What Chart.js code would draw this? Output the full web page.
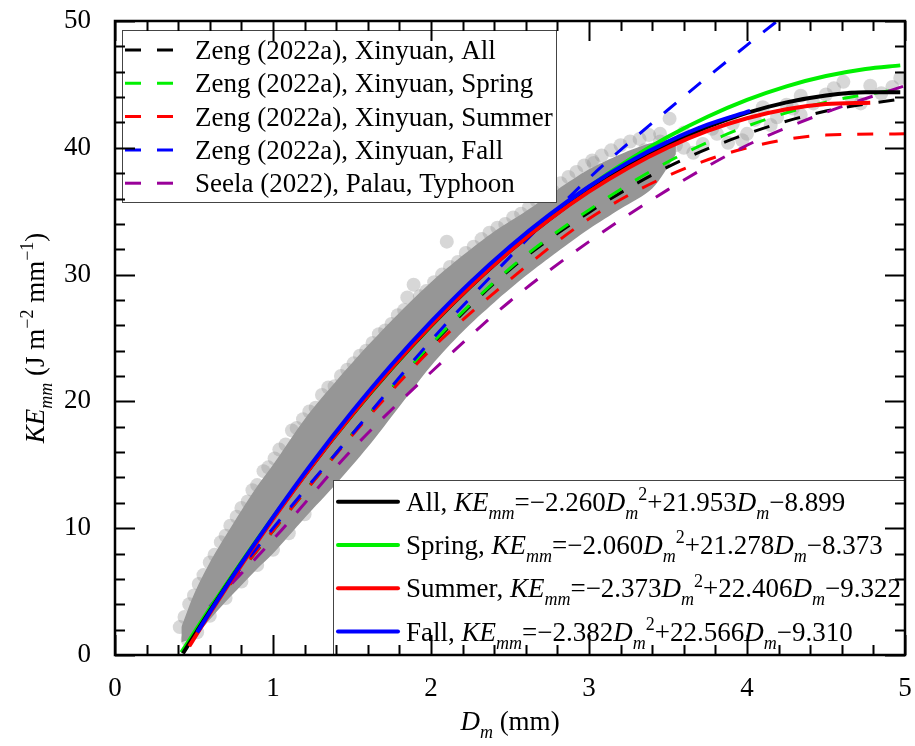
<!DOCTYPE html>
<html>
<head>
<meta charset="utf-8">
<script src="https://cdn.jsdelivr.net/npm/chart.js@4.4.0/dist/chart.umd.min.js"></script>
<style>
  html, body { margin: 0; padding: 0; background: #fff; }
  #wrap { width: 915px; height: 746px; }
</style>
</head>
<body>
<div id="wrap"><canvas id="keChart" width="915" height="746"></canvas></div>
<script>
// Measured drops: solid core of the cloud (upper / lower envelope)
const coreD     = [0.42, 0.5, 0.6, 0.7, 0.8, 0.9, 1.0, 1.2, 1.4, 1.6, 1.8, 2.0, 2.2, 2.4, 2.6, 2.8, 3.0, 3.2, 3.4, 3.55];
const coreUpper = [2.2, 4.8, 7.3, 9.4, 11.4, 13.3, 15.0, 18.6, 21.6, 24.4, 27.0, 29.4, 31.5, 33.4, 35.0, 36.7, 38.3, 39.5, 40.4, 40.7];
const coreLower = [1.0, 1.4, 2.8, 4.2, 5.5, 6.8, 8.0, 10.8, 13.5, 16.4, 19.6, 22.8, 25.5, 27.8, 29.9, 31.8, 33.6, 35.2, 36.8, 39.5];

// Individual samples: upper edge of the cloud
const edgeD  = [0.41, 0.44, 0.47, 0.5, 0.53, 0.56, 0.6, 0.63, 0.67, 0.7, 0.73, 0.77, 0.8, 0.84, 0.87, 0.9, 0.94, 0.97,
                1.01, 1.04, 1.08, 1.12, 1.15, 1.19, 1.23, 1.27, 1.31, 1.35, 1.39, 1.43, 1.47, 1.51, 1.55, 1.59, 1.63, 1.67,
                1.71, 1.75, 1.79, 1.83, 1.85, 1.89, 1.93, 1.97, 2.02, 2.07, 2.1, 2.12, 2.17, 2.22, 2.27, 2.32, 2.37, 2.42,
                2.47, 2.52, 2.57, 2.62, 2.67, 2.72, 2.77, 2.82, 2.87, 2.92, 2.97, 3.02, 3.08, 3.14, 3.2, 3.26, 3.32, 3.38, 3.45];
const edgeKE = [2.2, 3.0, 4.0, 4.7, 5.6, 6.3, 7.3, 7.9, 8.9, 9.4, 10.2, 10.9, 11.6, 12.1, 13.0, 13.4, 14.5, 14.8,
                15.5, 16.2, 16.6, 17.7, 17.9, 18.6, 19.2, 19.5, 20.5, 21.1, 21.2, 22.0, 22.5, 23.0, 23.6, 24.0, 24.6, 25.3,
                25.6, 26.1, 26.8, 27.2, 28.2, 29.2, 28.3, 28.7, 29.4, 30.0, 32.6, 30.6, 31.0, 31.7, 32.2, 32.8, 33.3, 33.7,
                34.0, 34.5, 34.8, 35.3, 35.8, 36.3, 36.6, 37.2, 37.7, 38.1, 38.6, 39.0, 39.4, 39.8, 40.2, 40.5, 40.7, 41.0, 41.1];

// lower edge of the cloud
const lowD  = [0.46, 0.52, 0.6, 0.7, 0.8, 0.9, 1.0, 1.1, 1.2];
const lowKE = [1.2, 1.8, 3.1, 4.5, 5.8, 7.1, 8.3, 9.6, 11.1];

// sparse large-drop tail
const tailD  = [3.03, 3.1, 3.2, 3.25, 3.3, 3.35, 3.4, 3.45, 3.5, 3.51, 3.55, 3.6, 3.6, 3.66, 3.72, 3.78, 3.81, 3.88, 3.91, 3.97,
                4.0, 4.05, 4.1, 4.15, 4.19, 4.25, 4.29, 4.34, 4.34, 4.42, 4.5, 4.55, 4.61, 4.66, 4.72, 4.78, 4.85, 4.92, 4.97];
const tailKE = [38.8, 37.5, 38.0, 39.0, 38.5, 39.8, 39.0, 40.5, 39.4, 42.3, 40.2, 41.2, 40.0, 39.6, 40.3, 41.5, 41.1, 40.4, 41.9, 40.6,
                41.1, 42.2, 43.2, 41.8, 42.4, 43.4, 43.1, 44.1, 42.6, 43.5, 44.2, 44.7, 45.2, 44.0, 43.5, 44.9, 44.3, 44.8, 45.5];

// Published relations (dashed)
const refD       = [0.6, 1.0, 1.5, 2.0, 2.5, 3.0, 3.5, 4.0, 4.5, 5.0];
const zengAll    = [3.6, 9.8, 17.4, 24.4, 30.4, 34.9, 38.5, 41.1, 42.9, 43.9];
const zengSpring = [3.6, 9.8, 17.4, 24.5, 30.5, 35.1, 38.9, 41.7, 43.6, 44.7];
const zengSummer = [3.6, 9.8, 17.3, 24.1, 29.6, 34.4, 37.8, 40.0, 41.0, 41.1];
const zengFall   = [3.8, 10.0, 17.4, 24.8, 31.4, 37.6, 43.0, 48.1, 53.0];
const seelaTyph  = [3.8, 9.1, 16.2, 22.3, 27.9, 32.6, 36.7, 40.2, 42.8, 44.9];

// Quadratic fits of this study (solid)
const fitNames = ['All', 'Spring', 'Summer', 'Fall'];
const fitA = [-2.260, -2.060, -2.373, -2.382];
const fitB = [21.953, 21.278, 22.406, 22.566];
const fitC = [-8.899, -8.373, -9.322, -9.310];
const fitD = [
  [0.43, 0.6, 0.8, 1.0, 1.25, 1.5, 1.75, 2.0, 2.25, 2.5, 2.75, 3.0, 3.25, 3.5, 3.75, 4.0, 4.25, 4.5, 4.75, 4.97],
  [0.42, 0.6, 0.8, 1.0, 1.25, 1.5, 1.75, 2.0, 2.25, 2.5, 2.75, 3.0, 3.25, 3.5, 3.75, 4.0, 4.25, 4.5, 4.75, 4.97],
  [0.47, 0.6, 0.8, 1.0, 1.25, 1.5, 1.75, 2.0, 2.25, 2.5, 2.75, 3.0, 3.25, 3.5, 3.75, 4.0, 4.25, 4.5, 4.78],
  [0.52, 0.6, 0.8, 1.0, 1.25, 1.5, 1.75, 2.0, 2.25, 2.5, 2.75, 3.0, 3.25, 3.5, 3.75, 4.02]
];
const fitKE = [
  [0.12, 3.46, 7.22, 10.79, 15.01, 18.95, 22.60, 25.97, 29.05, 31.86, 34.38, 36.62, 38.58, 40.25, 41.64, 42.75, 43.58, 44.13, 44.39, 44.38],
  [0.20, 3.65, 7.33, 10.85, 15.01, 18.91, 22.56, 25.94, 29.07, 31.95, 34.56, 36.92, 39.02, 40.87, 42.45, 43.78, 44.85, 45.66, 46.22, 46.50],
  [0.69, 3.27, 7.08, 10.71, 14.98, 18.95, 22.62, 26.00, 29.08, 31.86, 34.35, 36.54, 38.43, 40.03, 41.33, 42.33, 43.04, 43.45, 43.56],
  [1.78, 3.37, 7.22, 10.87, 15.18, 19.18, 22.89, 26.29, 29.41, 32.22, 34.73, 36.95, 38.87, 40.49, 41.82, 42.91]
];
const fitColors = ['#000000', '#00f000', '#ff0000', '#0000ff'];

const refNames = ['Zeng (2022a), Xinyuan, All', 'Zeng (2022a), Xinyuan, Spring', 'Zeng (2022a), Xinyuan, Summer',
                  'Zeng (2022a), Xinyuan, Fall', 'Seela (2022), Palau, Typhoon'];
const refSeries = [zengAll, zengSpring, zengSummer, zengFall, seelaTyph];
const refColors = ['#000000', '#00f000', '#ff0000', '#0000ff', '#990099'];

const FONT = '"Liberation Serif", "Times New Roman", serif';

function pairs(xs, ys) {
  return ys.map((v, i) => ({ x: xs[i], y: v }));
}

function fmt(v) {
  return (v < 0 ? '\u2212' : '+') + Math.abs(v).toFixed(3);
}

// text made of runs: '' normal, 'i' italic, 'b' subscript, 'p' superscript
function runFont(st, size) {
  const small = st.includes('b') || st.includes('p');
  return (st.includes('i') ? 'italic ' : '') + Math.round(small ? size * 0.68 : size) + 'px ' + FONT;
}

function richWidth(ctx, parts, size) {
  let w = 0;
  parts.forEach(([t, st]) => {
    ctx.font = runFont(st, size);
    w += ctx.measureText(t).width;
  });
  return w;
}

function drawRich(ctx, parts, x, y, size) {
  let cx = x;
  parts.forEach(([t, st]) => {
    ctx.font = runFont(st, size);
    const dy = st.includes('b') ? size * 0.3 : (st.includes('p') ? -size * 0.4 : 0);
    ctx.fillText(t, cx, y + dy);
    cx += ctx.measureText(t).width;
  });
  return cx;
}

// scales keep no extra room for their end labels, so the plot box sits exactly in the padding
function noScalePadding(scale) {
  scale.paddingLeft = 0;
  scale.paddingRight = 0;
  scale.paddingTop = 0;
  scale.paddingBottom = 0;
}

const dropStyle = {
  type: 'scatter',
  pointRadius: 7,
  pointBackgroundColor: 'rgba(150,150,150,0.38)',
  pointBorderWidth: 0,
  order: 20
};

const datasets = [];
datasets.push(Object.assign({ data: pairs(edgeD, edgeKE) }, dropStyle));
datasets.push(Object.assign({ data: pairs(lowD, lowKE) }, dropStyle));
datasets.push(Object.assign({ data: pairs(tailD, tailKE) }, dropStyle));

// core of the cloud: lower edge, then upper edge filled down to it
datasets.push({
  type: 'line',
  data: pairs(coreD, coreLower),
  borderWidth: 0,
  borderColor: 'rgba(0,0,0,0)',
  pointRadius: 0,
  tension: 0.3,
  fill: false,
  order: 19
});
datasets.push({
  type: 'line',
  data: pairs(coreD, coreUpper),
  borderWidth: 0,
  borderColor: 'rgba(0,0,0,0)',
  backgroundColor: 'rgb(150,150,150)',
  pointRadius: 0,
  tension: 0.3,
  fill: '-1',
  order: 18
});

refSeries.forEach((ys, i) => {
  datasets.push({
    type: 'line',
    label: refNames[i],
    data: pairs(refD, ys),
    borderColor: refColors[i],
    borderWidth: 3,
    borderDash: [16, 16],
    pointRadius: 0,
    cubicInterpolationMode: 'monotone',
    fill: false,
    order: 14 - i
  });
});

const fitOrder = [4, 5, 3, 2];
fitNames.forEach((name, i) => {
  datasets.push({
    type: 'line',
    label: name,
    data: pairs(fitD[i], fitKE[i]),
    borderColor: fitColors[i],
    borderWidth: 4,
    pointRadius: 0,
    cubicInterpolationMode: 'monotone',
    fill: false,
    order: fitOrder[i]
  });
});

const decorPlugin = {
  id: 'decor',
  afterDatasetsDraw(chart) {
    const { ctx, chartArea: a, scales: { x, y } } = chart;
    ctx.save();
    ctx.textBaseline = 'alphabetic';
    ctx.textAlign = 'left';

    // dashed-line legend, upper left
    ctx.fillStyle = '#fff';
    ctx.fillRect(122, 30, 434, 172);
    ctx.strokeStyle = '#444';
    ctx.lineWidth = 1;
    ctx.strokeRect(122.5, 30.5, 434, 172);
    refNames.forEach((name, i) => {
      const cy = 50 + i * 33.3;
      ctx.strokeStyle = refColors[i];
      ctx.lineWidth = 3;
      ctx.setLineDash([16, 16]);
      ctx.beginPath();
      ctx.moveTo(125, cy);
      ctx.lineTo(173, cy);
      ctx.stroke();
      ctx.setLineDash([]);
      ctx.fillStyle = '#000';
      ctx.font = '27px ' + FONT;
      ctx.fillText(name, 195, cy + 9);
    });

    // fitted-equation legend, lower right
    ctx.fillStyle = '#fff';
    ctx.fillRect(333, 480, 571, a.bottom - 480);
    ctx.strokeStyle = '#444';
    ctx.lineWidth = 1;
    ctx.strokeRect(333.5, 480.5, 571, a.bottom - 480);
    fitNames.forEach((name, i) => {
      const cy = 501.7 + i * 43.3;
      ctx.strokeStyle = fitColors[i];
      ctx.lineWidth = 4;
      ctx.lineCap = 'round';
      ctx.beginPath();
      ctx.moveTo(338, cy);
      ctx.lineTo(398, cy);
      ctx.stroke();
      ctx.lineCap = 'butt';
      ctx.fillStyle = '#000';
      drawRich(ctx, [
        [name + ', ', ''], ['KE', 'i'], ['mm', 'ib'], ['=' + fmt(fitA[i]), ''], ['D', 'i'], ['m', 'ib'], ['2', 'p'],
        [fmt(fitB[i]), ''], ['D', 'i'], ['m', 'ib'], [fmt(fitC[i]), '']
      ], 406, cy + 9, 27);
    });

    // inward tick marks on all four sides
    ctx.strokeStyle = '#000';
    ctx.lineWidth = 2;
    ctx.beginPath();
    for (let i = 0; i <= 25; i++) {
      const px = Math.round(x.getPixelForValue(i * 0.2)) + 0.5;
      const len = i % 5 === 0 ? 20 : 10;
      ctx.moveTo(px, a.bottom); ctx.lineTo(px, a.bottom - len);
      ctx.moveTo(px, a.top); ctx.lineTo(px, a.top + len);
    }
    for (let i = 0; i <= 25; i++) {
      const py = Math.round(y.getPixelForValue(i * 2)) + 0.5;
      const len = i % 5 === 0 ? 20 : 10;
      ctx.moveTo(a.left, py); ctx.lineTo(a.left + len, py);
      ctx.moveTo(a.right, py); ctx.lineTo(a.right - len, py);
    }
    ctx.stroke();

    // frame
    ctx.lineWidth = 2.5;
    ctx.strokeRect(a.left, a.top, a.right - a.left, a.bottom - a.top);

    // axis titles
    ctx.fillStyle = '#000';
    const xt = [['D', 'i'], ['m', 'ib'], [' (mm)', '']];
    const xw = richWidth(ctx, xt, 27);
    drawRich(ctx, xt, (a.left + a.right) / 2 - xw / 2, 730, 27);

    const yt = [['KE', 'i'], ['mm', 'ib'], [' (J m', ''], ['\u22122', 'p'], [' mm', ''], ['\u22121', 'p'], [')', '']];
    const yw = richWidth(ctx, yt, 27);
    ctx.translate(44, (a.top + a.bottom) / 2);
    ctx.rotate(-Math.PI / 2);
    drawRich(ctx, yt, -yw / 2, 0, 27);
    ctx.restore();
  }
};

new Chart(document.getElementById('keChart'), {
  type: 'scatter',
  data: { datasets: datasets },
  options: {
    responsive: false,
    animation: false,
    devicePixelRatio: 1,
    layout: { autoPadding: false, padding: { left: 0, top: 21, right: 10, bottom: 0 } },
    plugins: {
      legend: { display: false },
      tooltip: { enabled: false }
    },
    scales: {
      x: {
        type: 'linear',
        min: 0,
        max: 5,
        ticks: { stepSize: 1, color: '#000', font: { family: FONT, size: 27 }, padding: 18 },
        grid: { display: false, drawTicks: false },
        border: { display: false },
        afterFit(scale) { scale.height = 91; noScalePadding(scale); }
      },
      y: {
        type: 'linear',
        min: 0,
        max: 50,
        ticks: { stepSize: 10, color: '#000', font: { family: FONT, size: 27 }, padding: 24 },
        grid: { display: false, drawTicks: false },
        border: { display: false },
        afterFit(scale) { scale.width = 115; noScalePadding(scale); }
      }
    }
  },
  plugins: [decorPlugin]
});
</script>
</body>
</html>
